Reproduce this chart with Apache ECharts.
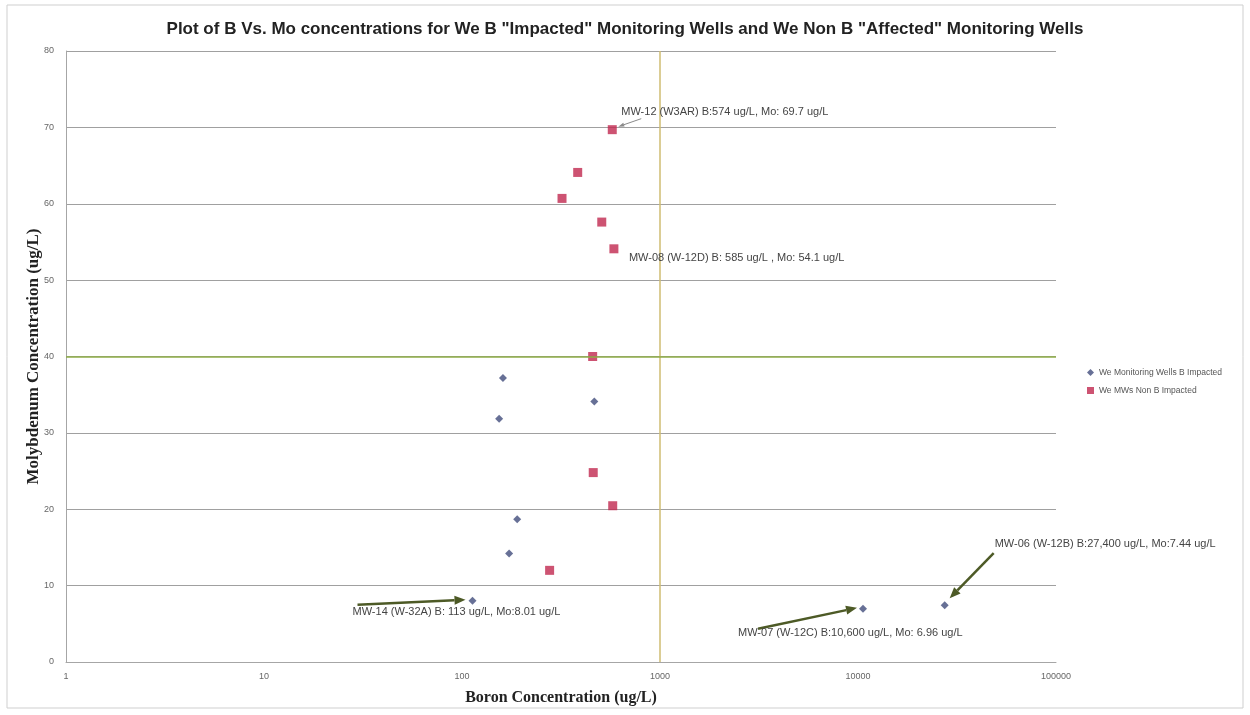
<!DOCTYPE html>
<html>
<head>
<meta charset="utf-8">
<script src="https://cdn.jsdelivr.net/npm/echarts@6/dist/echarts.min.js"></script>
<style>
html,body{margin:0;padding:0;background:#fff;}
#chart{width:1250px;height:715px;}
</style>
</head>
<body>
<div id="chart"></div>
<script>
// ---- data ----
var titleText = 'Plot of B Vs. Mo concentrations for We B "Impacted" Monitoring Wells and We Non B "Affected" Monitoring Wells';
var seriesNames = ['We Monitoring Wells B Impacted', 'We MWs Non B Impacted'];
var impactedBoron = [161, 466, 154, 190, 173, 113, 10600, 27400];
var impactedMo = [37.2, 34.1, 31.85, 18.7, 14.2, 8.01, 6.96, 7.44];
var nonImpactedBoron = [574, 384, 320, 508, 585, 457, 460, 577, 277];
var nonImpactedMo = [69.7, 64.1, 60.7, 57.6, 54.1, 40.0, 24.8, 20.46, 12.0];
var xTickValues = [1, 10, 100, 1000, 10000, 100000];
var yTickValues = [0, 10, 20, 30, 40, 50, 60, 70, 80];
var refBoron = 1000;
var refMo = 40;
var annotationTexts = [
  'MW-12 (W3AR) B:574 ug/L, Mo: 69.7 ug/L',
  'MW-08 (W-12D) B: 585 ug/L , Mo: 54.1 ug/L',
  'MW-14 (W-32A) B: 113 ug/L, Mo:8.01 ug/L',
  'MW-07 (W-12C) B:10,600 ug/L, Mo: 6.96 ug/L',
  'MW-06 (W-12B) B:27,400 ug/L, Mo:7.44 ug/L'
];

function zip(a, b) { return a.map(function (v, i) { return [v, b[i]]; }); }

var chart = echarts.init(document.getElementById('chart'), null, {renderer: 'canvas'});

var option = {
  animation: false,
  backgroundColor: '#ffffff',
  title: {
    text: titleText,
    left: 'center',
    top: 16,
    textStyle: {fontFamily: 'Liberation Sans Narrow, Arial Narrow, sans-serif', fontSize: 17, fontWeight: 'bold', color: '#222'}
  },
  grid: {left: 66, right: 194, top: 51, bottom: 53},
  legend: {
    orient: 'vertical',
    left: 1082,
    top: 363,
    itemWidth: 7,
    itemHeight: 7,
    itemGap: 9,
    textStyle: {fontFamily: 'Liberation Sans Narrow, sans-serif', fontSize: 8.5, color: '#555'},
    data: [{name: seriesNames[0], icon: 'diamond'}, {name: seriesNames[1], icon: 'rect'}]
  },
  xAxis: {
    type: 'log',
    logBase: 10,
    min: xTickValues[0],
    max: xTickValues[xTickValues.length - 1],
    name: 'Boron Concentration (ug/L)',
    nameLocation: 'middle',
    nameGap: 28,
    nameTextStyle: {fontFamily: 'Liberation Serif, Times New Roman, serif', fontWeight: 'bold', fontSize: 16, color: '#222'},
    axisLine: {show: true, lineStyle: {color: '#a6a6a6', width: 1}},
    axisTick: {show: false},
    splitLine: {show: false},
    axisLabel: {fontFamily: 'Liberation Sans Narrow, sans-serif', fontSize: 9, color: '#666', margin: 10,
      formatter: function (v) { return String(Math.round(v)); }}
  },
  yAxis: {
    type: 'value',
    min: yTickValues[0],
    max: yTickValues[yTickValues.length - 1],
    interval: 10,
    name: 'Molybdenum Concentration (ug/L)',
    nameLocation: 'middle',
    nameGap: 24,
    nameMoveOverlap: false,
    nameTextStyle: {fontFamily: 'Liberation Serif, Times New Roman, serif', fontWeight: 'bold', fontSize: 17, color: '#222'},
    axisLine: {show: true, lineStyle: {color: '#a6a6a6', width: 1}},
    axisTick: {show: false},
    splitLine: {show: true, lineStyle: {color: '#a0a0a0', width: 1}},
    axisLabel: {fontFamily: 'Liberation Sans Narrow, sans-serif', fontSize: 9, color: '#666', margin: 12}
  },
  series: [
    {
      name: seriesNames[0],
      type: 'scatter',
      symbol: 'diamond',
      symbolSize: 8,
      itemStyle: {color: '#414c7c'},
      data: zip(impactedBoron, impactedMo),
      z: 5
    },
    {
      name: seriesNames[1],
      type: 'scatter',
      symbol: 'rect',
      symbolSize: 9,
      itemStyle: {color: '#c0284f'},
      data: zip(nonImpactedBoron, nonImpactedMo),
      markLine: {
        silent: true,
        symbol: ['none', 'none'],
        label: {show: false},
        animation: false,
        data: [
          {xAxis: refBoron, lineStyle: {color: '#cfbd72', width: 1.5, type: 'solid'}},
          {yAxis: refMo, lineStyle: {color: '#8fae47', width: 1.5, type: 'solid'}}
        ]
      },
      z: 4
    }
  ]
};
chart.setOption(option);

function px(b, m) { return chart.convertToPixel({xAxisIndex: 0, yAxisIndex: 0}, [b, m]); }

function arrow(x1, y1, x2, y2, color, width, headLen, headW) {
  var dx = x2 - x1, dy = y2 - y1, len = Math.sqrt(dx * dx + dy * dy);
  var ux = dx / len, uy = dy / len;
  var bx = x2 - ux * headLen, by = y2 - uy * headLen;
  var nx = -uy, ny = ux;
  return [
    {type: 'line', shape: {x1: x1, y1: y1, x2: bx, y2: by}, style: {stroke: color, lineWidth: width}, silent: true, z: 10},
    {type: 'polygon', shape: {points: [[x2, y2], [bx + nx * headW / 2, by + ny * headW / 2], [bx - nx * headW / 2, by - ny * headW / 2]]},
      style: {fill: color}, silent: true, z: 10}
  ];
}

function label(x, y, text) {
  return {type: 'text', x: x, y: y, silent: true, z: 11,
    style: {text: text, fill: '#444', fontSize: 11, fontFamily: 'Liberation Sans Narrow, sans-serif', verticalAlign: 'middle', align: 'left'}};
}

var p12 = px(nonImpactedBoron[0], nonImpactedMo[0]);
var p08 = px(nonImpactedBoron[4], nonImpactedMo[4]);
var p14 = px(impactedBoron[5], impactedMo[5]);
var p07 = px(impactedBoron[6], impactedMo[6]);
var p06 = px(impactedBoron[7], impactedMo[7]);

var darkArrow = '#4d5a26';
var elements = [];
elements.push({type: 'rect', shape: {x: 7, y: 5, width: 1236, height: 703}, style: {fill: 'none', stroke: '#cfcfcf', lineWidth: 1}, silent: true, z: 0});
elements.push(label(p12[0] + 9, p12[1] - 18, annotationTexts[0]));
elements = elements.concat(arrow(p12[0] + 29, p12[1] - 11, p12[0] + 6, p12[1] - 3, '#8a8a8a', 1, 6, 4));
elements.push(label(p08[0] + 15, p08[1] + 9, annotationTexts[1]));
elements.push(label(p14[0] - 120, p14[1] + 11, annotationTexts[2]));
elements = elements.concat(arrow(p14[0] - 115, p14[1] + 4, p14[0] - 7, p14[1] - 1, darkArrow, 2.5, 11, 9));
elements.push(label(p07[0] - 125, p07[1] + 24, annotationTexts[3]));
elements = elements.concat(arrow(p07[0] - 105, p07[1] + 20, p07[0] - 6, p07[1] - 1, darkArrow, 2.5, 11, 9));
elements.push(label(p06[0] + 50, p06[1] - 61, annotationTexts[4]));
elements = elements.concat(arrow(p06[0] + 49, p06[1] - 52, p06[0] + 5, p06[1] - 7, darkArrow, 2.5, 11, 9));

chart.setOption({graphic: {elements: elements}});
</script>
</body>
</html>
